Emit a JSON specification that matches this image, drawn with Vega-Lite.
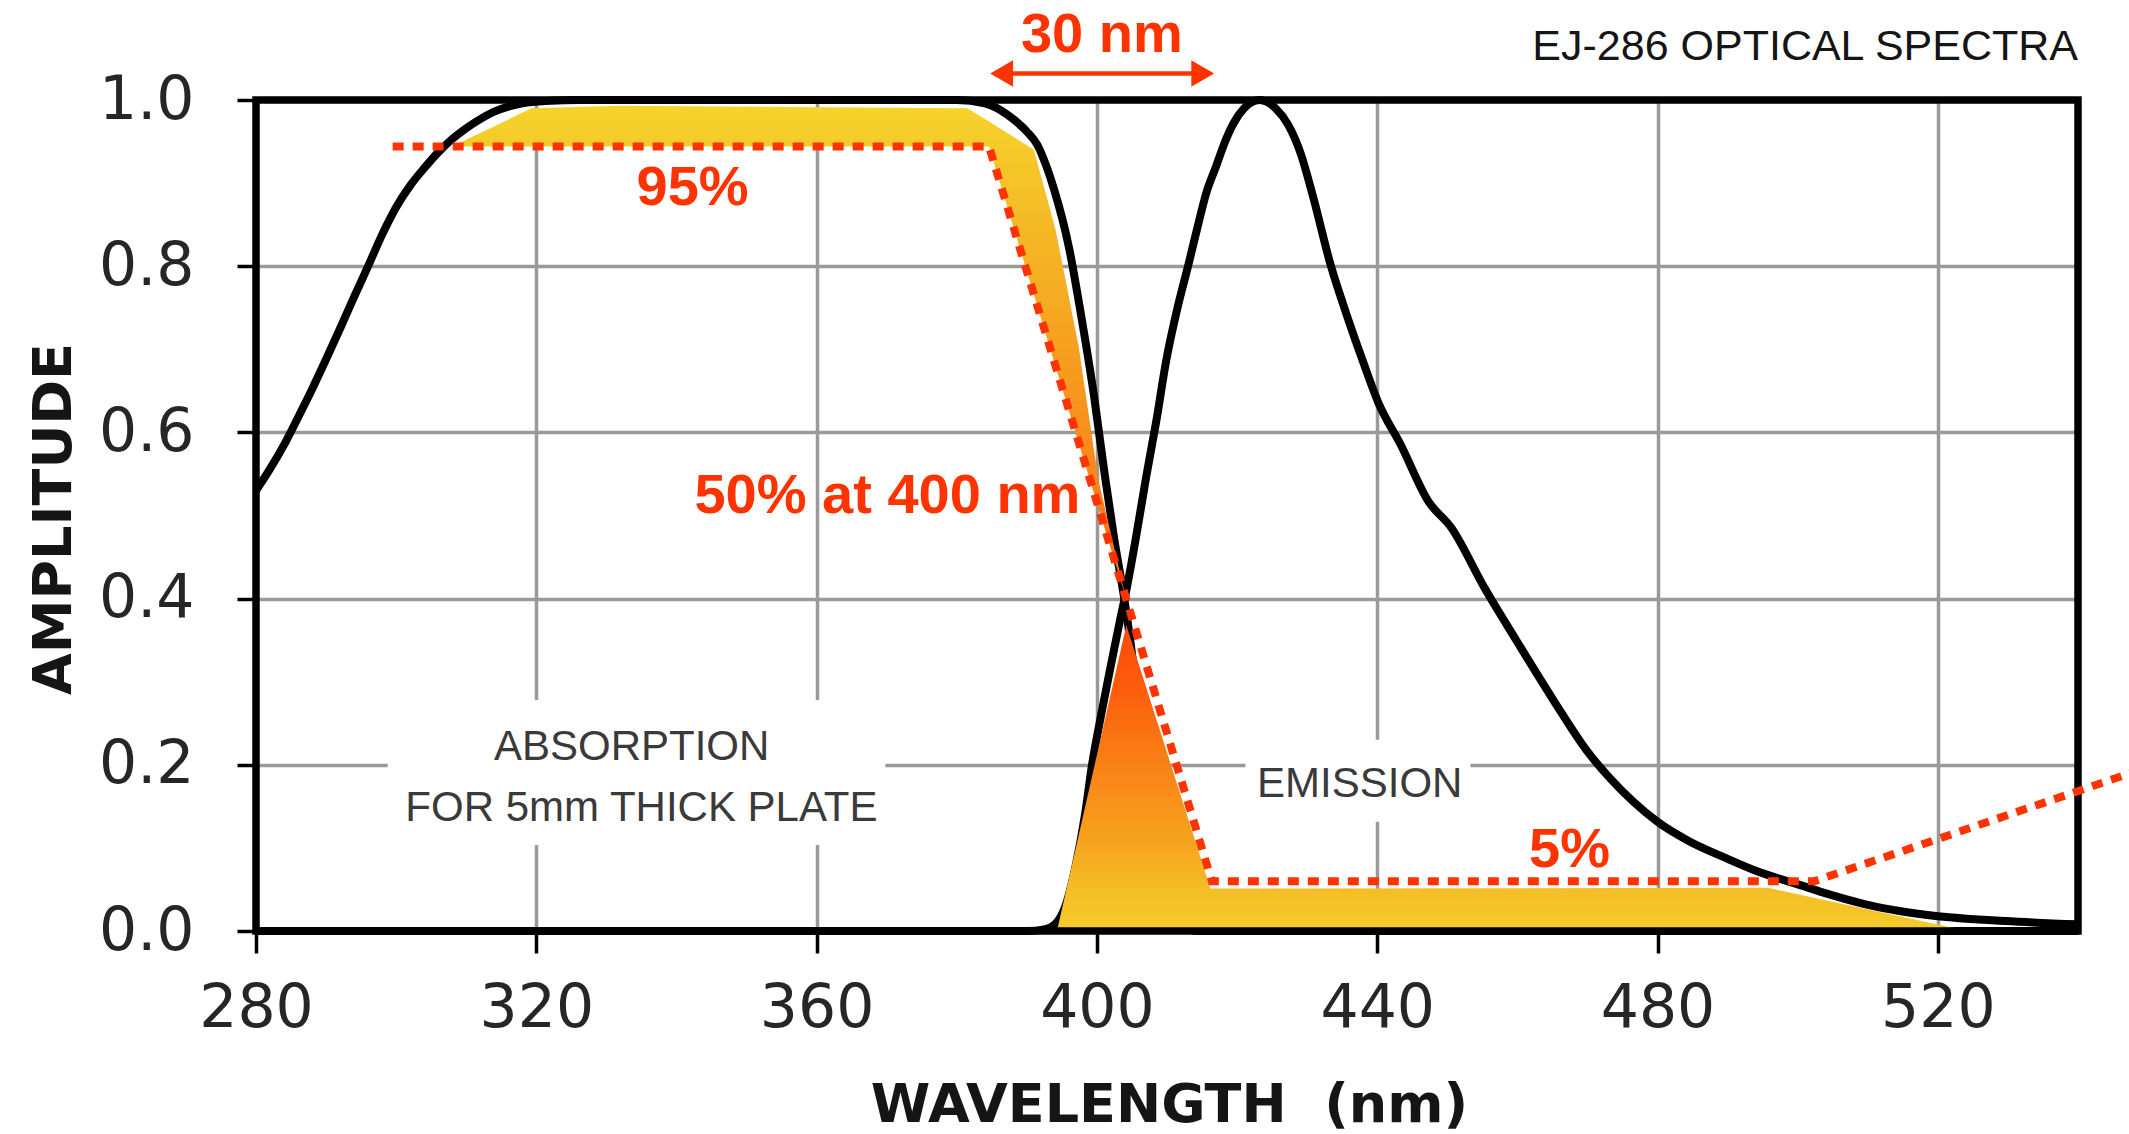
{
  "$schema": "https://vega.github.io/schema/vega-lite/v6.json",
  "width": 1822,
  "height": 831,
  "autosize": {"type": "none"},
  "padding": {"left": 256, "top": 100, "right": 51, "bottom": 203},
  "background": "white",
  "config": {"view": {"stroke": null}},
  "datasets": {
    "frame": [
      {"x": 280, "x2": 540, "y": 0, "y2": 1}
    ],
    "boxes": [
      {"x": 298.8, "x2": 369.8, "y": 0.1035, "y2": 0.278},
      {"x": 421.2, "x2": 453.3, "y": 0.1315, "y2": 0.23}
    ],
    "curves": [
      {"s": "absorption", "x": 280, "y": 0.53},
      {"s": "absorption", "x": 282, "y": 0.556},
      {"s": "absorption", "x": 284, "y": 0.585},
      {"s": "absorption", "x": 286, "y": 0.618},
      {"s": "absorption", "x": 288, "y": 0.652},
      {"s": "absorption", "x": 290, "y": 0.688},
      {"s": "absorption", "x": 292, "y": 0.725},
      {"s": "absorption", "x": 294, "y": 0.763},
      {"s": "absorption", "x": 296, "y": 0.8},
      {"s": "absorption", "x": 298, "y": 0.838},
      {"s": "absorption", "x": 300, "y": 0.871},
      {"s": "absorption", "x": 302, "y": 0.897},
      {"s": "absorption", "x": 304, "y": 0.918},
      {"s": "absorption", "x": 306, "y": 0.937},
      {"s": "absorption", "x": 308, "y": 0.953},
      {"s": "absorption", "x": 310, "y": 0.966},
      {"s": "absorption", "x": 312, "y": 0.977},
      {"s": "absorption", "x": 314, "y": 0.986},
      {"s": "absorption", "x": 316, "y": 0.992},
      {"s": "absorption", "x": 318, "y": 0.996},
      {"s": "absorption", "x": 322, "y": 0.999},
      {"s": "absorption", "x": 326, "y": 1.0},
      {"s": "absorption", "x": 380, "y": 1.0},
      {"s": "absorption", "x": 384, "y": 0.996},
      {"s": "absorption", "x": 386.2, "y": 0.988},
      {"s": "absorption", "x": 388.2, "y": 0.976},
      {"s": "absorption", "x": 390, "y": 0.962},
      {"s": "absorption", "x": 391.5, "y": 0.946},
      {"s": "absorption", "x": 392.8, "y": 0.92},
      {"s": "absorption", "x": 393.9, "y": 0.892},
      {"s": "absorption", "x": 396, "y": 0.823},
      {"s": "absorption", "x": 397.7, "y": 0.743},
      {"s": "absorption", "x": 399.6, "y": 0.643},
      {"s": "absorption", "x": 401.1, "y": 0.55},
      {"s": "absorption", "x": 402.5, "y": 0.47},
      {"s": "absorption", "x": 403.9, "y": 0.4},
      {"s": "absorption", "x": 405.2, "y": 0.32},
      {"s": "absorption", "x": 406.4, "y": 0.22},
      {"s": "absorption", "x": 407.8, "y": 0.12},
      {"s": "absorption", "x": 409.4, "y": 0.05},
      {"s": "absorption", "x": 411.5, "y": 0.015},
      {"s": "absorption", "x": 414, "y": 0},
      {"s": "absorption", "x": 540, "y": 0},
      {"s": "emission", "x": 280, "y": 0},
      {"s": "emission", "x": 390, "y": 0},
      {"s": "emission", "x": 392.5, "y": 0.002},
      {"s": "emission", "x": 394, "y": 0.008},
      {"s": "emission", "x": 395.5, "y": 0.03},
      {"s": "emission", "x": 397, "y": 0.08},
      {"s": "emission", "x": 398.3, "y": 0.14},
      {"s": "emission", "x": 399.3, "y": 0.2},
      {"s": "emission", "x": 400.6, "y": 0.26},
      {"s": "emission", "x": 402, "y": 0.32},
      {"s": "emission", "x": 403.2, "y": 0.37},
      {"s": "emission", "x": 404.2, "y": 0.41},
      {"s": "emission", "x": 405.5, "y": 0.47},
      {"s": "emission", "x": 407, "y": 0.545},
      {"s": "emission", "x": 408.5, "y": 0.615},
      {"s": "emission", "x": 409.9, "y": 0.687},
      {"s": "emission", "x": 411.5, "y": 0.75},
      {"s": "emission", "x": 413, "y": 0.8},
      {"s": "emission", "x": 414.3, "y": 0.845},
      {"s": "emission", "x": 415.6, "y": 0.888},
      {"s": "emission", "x": 417, "y": 0.92},
      {"s": "emission", "x": 418.2, "y": 0.948},
      {"s": "emission", "x": 419.5, "y": 0.972},
      {"s": "emission", "x": 421, "y": 0.99},
      {"s": "emission", "x": 423.2, "y": 1.0},
      {"s": "emission", "x": 425.5, "y": 0.99},
      {"s": "emission", "x": 427.3, "y": 0.97},
      {"s": "emission", "x": 429.1, "y": 0.935},
      {"s": "emission", "x": 430.8, "y": 0.885},
      {"s": "emission", "x": 433.4, "y": 0.8},
      {"s": "emission", "x": 435.5, "y": 0.745},
      {"s": "emission", "x": 437.9, "y": 0.687},
      {"s": "emission", "x": 440.2, "y": 0.635},
      {"s": "emission", "x": 443.3, "y": 0.586},
      {"s": "emission", "x": 447.3, "y": 0.517},
      {"s": "emission", "x": 450.6, "y": 0.485},
      {"s": "emission", "x": 455.3, "y": 0.413},
      {"s": "emission", "x": 459.9, "y": 0.349},
      {"s": "emission", "x": 465.2, "y": 0.277},
      {"s": "emission", "x": 469.9, "y": 0.217},
      {"s": "emission", "x": 473.2, "y": 0.184},
      {"s": "emission", "x": 476.5, "y": 0.156},
      {"s": "emission", "x": 479.9, "y": 0.132},
      {"s": "emission", "x": 484.5, "y": 0.108},
      {"s": "emission", "x": 489.7, "y": 0.088},
      {"s": "emission", "x": 494.5, "y": 0.071},
      {"s": "emission", "x": 499.7, "y": 0.057},
      {"s": "emission", "x": 504.5, "y": 0.044},
      {"s": "emission", "x": 509.7, "y": 0.032},
      {"s": "emission", "x": 514.5, "y": 0.024},
      {"s": "emission", "x": 519.7, "y": 0.018},
      {"s": "emission", "x": 529.6, "y": 0.012},
      {"s": "emission", "x": 540, "y": 0.008}
    ],
    "upper": [
      {"x": 308.5, "y": 0.946, "y2": 0.944},
      {"x": 319.3, "y": 0.99, "y2": 0.944},
      {"x": 332, "y": 0.993, "y2": 0.944},
      {"x": 381.5, "y": 0.99, "y2": 0.944},
      {"x": 384.6, "y": 0.974, "y2": 0.944},
      {"x": 391, "y": 0.94, "y2": 0.766},
      {"x": 394.1, "y": 0.844, "y2": 0.679},
      {"x": 397.4, "y": 0.703, "y2": 0.587},
      {"x": 400.2, "y": 0.543, "y2": 0.509},
      {"x": 404.1, "y": 0.402, "y2": 0.402}
    ],
    "lower": [
      {"x": 394.3, "y": 0},
      {"x": 404.2, "y": 0.368},
      {"x": 416.2, "y": 0.051},
      {"x": 495.7, "y": 0.052},
      {"x": 524.3, "y": 0}
    ],
    "dotted": [
      {"x": 299.5, "y": 0.944},
      {"x": 384.6, "y": 0.944},
      {"x": 416.4, "y": 0.06},
      {"x": 502.4, "y": 0.06},
      {"x": 547.5, "y": 0.19}
    ],
    "arrow": [
      {"x": 386, "y": 1.032},
      {"x": 415.5, "y": 1.032}
    ],
    "headLeft": [{"x": 386.4, "y": 1.032}],
    "headRight": [{"x": 415.1, "y": 1.032}],
    "redText": [
      {"x": 400.7, "y": 1.0578, "t": "30 nm"},
      {"x": 342.3, "y": 0.8736, "t": "95%"},
      {"x": 370.1, "y": 0.503, "t": "50% at 400 nm"},
      {"x": 467.45, "y": 0.077, "t": "5%"}
    ],
    "grayText": [
      {"x": 333.6, "y": 0.2058, "t": "ABSORPTION"},
      {"x": 335.0, "y": 0.1318, "t": "FOR 5mm THICK PLATE"},
      {"x": 437.5, "y": 0.161, "t": "EMISSION"}
    ],
    "titleText": [
      {"x": 540, "y": 1.048, "t": "EJ-286 OPTICAL SPECTRA"}
    ]
  },
  "encoding": {
    "x": {
      "field": "x",
      "type": "quantitative",
      "scale": {"domain": [280, 540], "nice": false, "zero": false},
      "axis": {
        "values": [280, 320, 360, 400, 440, 480, 520],
        "grid": true,
        "gridColor": "#9a9a9a",
        "gridWidth": 3.5,
        "gridOpacity": {"condition": {"test": "datum.value == 280", "value": 0}, "value": 1},
        "domain": false,
        "ticks": true,
        "tickColor": "#000",
        "tickWidth": 3.5,
        "tickSize": 22,
        "labelFont": "DejaVu Sans",
        "labelFontSize": 60,
        "labelColor": "#262626",
        "labelPadding": 26,
        "labelFlush": false,
        "labelOverlap": false,
        "title": "WAVELENGTH\u00a0\u00a0(nm)",
        "titleFont": "DejaVu Sans",
        "titleFontSize": 54,
        "titleFontWeight": "bold",
        "titleColor": "#151515",
        "titleX": 913,
        "titleY": 190,
        "titleBaseline": "alphabetic",
        "titleAlign": "center"
      }
    },
    "y": {
      "field": "y",
      "type": "quantitative",
      "scale": {"domain": [0, 1], "nice": false},
      "axis": {
        "values": [0, 0.2, 0.4, 0.6, 0.8, 1.0],
        "format": ".1f",
        "grid": true,
        "gridColor": "#9a9a9a",
        "gridWidth": 3.5,
        "gridOpacity": {"condition": {"test": "datum.value == 0 || datum.value == 1", "value": 0}, "value": 1},
        "domain": false,
        "ticks": true,
        "tickColor": "#000",
        "tickWidth": 3.5,
        "tickSize": 19,
        "labelFont": "DejaVu Sans",
        "labelFontSize": 60,
        "labelColor": "#262626",
        "labelPadding": 43,
        "labelOverlap": false,
        "title": "AMPLITUDE",
        "titleFont": "DejaVu Sans",
        "titleFontSize": 54,
        "titleFontWeight": "bold",
        "titleColor": "#151515",
        "titleAngle": -90,
        "titleX": -186,
        "titleY": 418.5,
        "titleBaseline": "alphabetic",
        "titleAlign": "center"
      }
    }
  },
  "layer": [
    {
      "data": {"name": "boxes"},
      "mark": {"type": "rect", "color": "white", "opacity": 1},
      "encoding": {"x2": {"field": "x2"}, "y2": {"field": "y2"}}
    },
    {
      "data": {"name": "curves"},
      "mark": {"type": "line", "color": "#000", "strokeWidth": 8, "interpolate": "monotone"},
      "encoding": {"detail": {"field": "s", "type": "nominal"}}
    },
    {
      "data": {"name": "upper"},
      "mark": {
        "type": "area",
        "opacity": 1,
        "color": {
          "gradient": "linear",
          "x1": 0, "y1": 0, "x2": 0, "y2": 1,
          "stops": [
            {"offset": 0, "color": "#F6D42B"},
            {"offset": 0.1, "color": "#F5C829"},
            {"offset": 0.3, "color": "#F5B424"},
            {"offset": 0.55, "color": "#F79A1E"},
            {"offset": 0.78, "color": "#F9831A"},
            {"offset": 1, "color": "#FC6414"}
          ]
        }
      },
      "encoding": {"y2": {"field": "y2"}}
    },
    {
      "data": {"name": "lower"},
      "mark": {
        "type": "area",
        "opacity": 1,
        "color": {
          "gradient": "linear",
          "x1": 0, "y1": 0, "x2": 0, "y2": 1,
          "stops": [
            {"offset": 0, "color": "#FF4A06"},
            {"offset": 0.2, "color": "#FD5C0C"},
            {"offset": 0.46, "color": "#F98216"},
            {"offset": 0.73, "color": "#F6A61F"},
            {"offset": 0.87, "color": "#F5BE26"},
            {"offset": 1, "color": "#F5CC2A"}
          ]
        }
      },
      "encoding": {"y2": {"datum": 0}}
    },
    {
      "data": {"name": "frame"},
      "mark": {"type": "rect", "fill": null, "fillOpacity": 0, "stroke": "#000", "strokeWidth": 7.5},
      "encoding": {"x2": {"field": "x2"}, "y2": {"field": "y2"}}
    },
    {
      "data": {"name": "dotted"},
      "mark": {"type": "line", "color": "#FF3300", "strokeWidth": 8, "strokeDash": [11, 9], "strokeCap": "butt"},
      "encoding": {}
    },
    {
      "data": {"name": "arrow"},
      "mark": {"type": "line", "color": "#FF3300", "strokeWidth": 4.5},
      "encoding": {}
    },
    {
      "data": {"name": "headLeft"},
      "mark": {"type": "point", "shape": "triangle-left", "filled": true, "color": "#FF3300", "opacity": 1, "size": 700},
      "encoding": {}
    },
    {
      "data": {"name": "headRight"},
      "mark": {"type": "point", "shape": "triangle-right", "filled": true, "color": "#FF3300", "opacity": 1, "size": 700},
      "encoding": {}
    },
    {
      "data": {"name": "redText"},
      "mark": {"type": "text", "font": "Liberation Sans", "fontSize": 56, "fontWeight": "bold", "color": "#FF3300", "align": "center", "baseline": "alphabetic"},
      "encoding": {"text": {"field": "t"}}
    },
    {
      "data": {"name": "grayText"},
      "mark": {"type": "text", "font": "Liberation Sans", "fontSize": 42, "color": "#3a3a3a", "align": "center", "baseline": "alphabetic"},
      "encoding": {"text": {"field": "t"}}
    },
    {
      "data": {"name": "titleText"},
      "mark": {"type": "text", "font": "Liberation Sans", "fontSize": 43, "color": "#151515", "align": "right", "baseline": "alphabetic"},
      "encoding": {"text": {"field": "t"}}
    }
  ]
}
